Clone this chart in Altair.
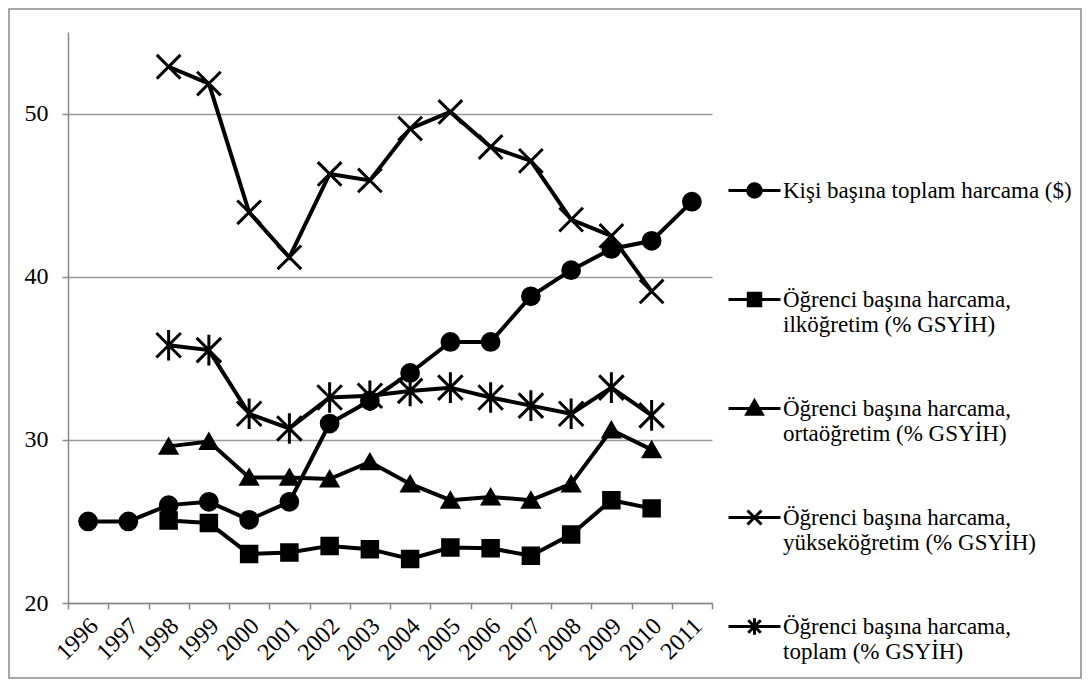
import altair as alt
import pandas as pd

years = [str(y) for y in range(1996, 2012)]

series = [
    "Kişi başına toplam harcama ($)",
    "Öğrenci başına harcama, ilköğretim (% GSYİH)",
    "Öğrenci başına harcama, ortaöğretim (% GSYİH)",
    "Öğrenci başına harcama, yükseköğretim (% GSYİH)",
    "Öğrenci başına harcama, toplam (% GSYİH)",
]

kisi = [25.0, 25.0, 26.0, 26.2, 25.1, 26.2, 31.0, 32.4, 34.1, 36.0, 36.0, 38.8, 40.4, 41.7, 42.2, 44.6]
ilk = [None, None, 25.05, 24.9, 23.0, 23.1, 23.5, 23.3, 22.7, 23.4, 23.35, 22.9, 24.2, 26.3, 25.8, None]
orta = [None, None, 29.6, 29.9, 27.7, 27.7, 27.6, 28.65, 27.3, 26.3, 26.5, 26.3, 27.3, 30.6, 29.4, None]
yuksek = [None, None, 52.87, 51.84, 43.95, 41.19, 46.3, 45.9, 49.08, 50.1, 47.95, 47.1, 43.5, 42.5, 39.1, None]
toplam = [None, None, 35.8, 35.5, 31.6, 30.7, 32.6, 32.7, 33.0, 33.2, 32.6, 32.1, 31.6, 33.2, 31.5, None]

y_ticks = [20, 30, 40, 50]

rows = []
for name, vals in zip(series, [kisi, ilk, orta, yuksek, toplam]):
    for yr, v in zip(years, vals):
        if v is not None:
            rows.append({"year": yr, "series": name, "value": v})
df = pd.DataFrame(rows)

FONT = "Liberation Serif, Times New Roman, serif"
FS = 24
LEG_FS = 23

# marker shapes in the plot
X_PATH = "M-1,-1L1,1M-1,1L1,-1"
AST_PATH = "M-1,-1L1,1M-1,1L1,-1M0,-1.25V1.25"
plot_shapes = ["circle", "square", "triangle-up", X_PATH, AST_PATH]
plot_sizes = [280, 240, 260, 560, 600]

# legend symbols: stroked part (line segment + outlines) and filled part
LINE = "M-1,0H1"
CIRC = "M-0.26,0A0.26,0.26 0 1,0 0.26,0A0.26,0.26 0 1,0 -0.26,0Z"
SQR = "M-0.24,-0.24H0.24V0.24H-0.24Z"
TRI = "M0,-0.3L0.3,0.22H-0.3Z"
XL = "M-0.27,-0.27L0.27,0.27M-0.27,0.27L0.27,-0.27"
AST = "M-0.24,-0.24L0.24,0.24M-0.24,0.24L0.24,-0.24M0,-0.32V0.32"
leg_stroke_shapes = [LINE + CIRC, LINE + SQR, LINE + TRI, LINE + XL, LINE + AST]
leg_fill_shapes = [CIRC, SQR, TRI, "M0,0", "M0,0"]

x_enc = alt.X(
    "year:N",
    sort=years,
    bandPosition=0.5,
    scale=alt.Scale(type="band", domain=years, paddingInner=0, paddingOuter=0),
    axis=alt.Axis(
        title=None,
        tickBand="extent",
        labelAngle=-45,
        labelAlign="right",
        labelBaseline="middle",
        labelPadding=13,
        labelOffset=6,
        tickSize=6,
        grid=False,
    ),
)
y_enc = alt.Y(
    "value:Q",
    scale=alt.Scale(domain=[20, 55], nice=False, zero=False),
    axis=alt.Axis(
        title=None,
        values=y_ticks,
        grid=True,
        tickSize=6,
        labelPadding=14,
    ),
)

base = alt.Chart(df)

lines = base.mark_line(color="black", strokeWidth=4).encode(
    x=x_enc, y=y_enc, detail="series:N"
)

point_layers = []
for name, shp, sz in zip(series, plot_shapes, plot_sizes):
    point_layers.append(
        base.transform_filter(alt.datum.series == name)
        .mark_point(
            shape=shp, size=sz, filled=True, fill="black",
            stroke="black", strokeWidth=3, opacity=1,
        )
        .encode(x=x_enc, y=y_enc)
    )

label_expr = (
    "indexof(datum.label, ', ') < 0 ? [datum.label, ''] : "
    "[substring(datum.label, 0, indexof(datum.label, ', ') + 1), "
    "substring(datum.label, indexof(datum.label, ', ') + 2)]"
)

LEG_X = 659
LEG_Y = 131
ROW_PAD = 44


def make_legend(label_opacity):
    return alt.Legend(
        title=None,
        orient="none",
        legendX=LEG_X,
        legendY=LEG_Y,
        padding=0,
        labelExpr=label_expr,
        labelFont=FONT,
        labelFontSize=LEG_FS,
        labelColor="black",
        labelOpacity=label_opacity,
        labelLimit=500,
        labelOffset=1,
        rowPadding=ROW_PAD,
        symbolSize=2704,
        symbolStrokeWidth=3,
        symbolOpacity=1,
    )


legend_stroke = base.transform_filter("datum.value > 1000").mark_point(
    filled=False, color="black", strokeWidth=3, opacity=1
).encode(
    x=x_enc,
    y=y_enc,
    shape=alt.Shape(
        "series:N",
        scale=alt.Scale(domain=series, range=leg_stroke_shapes),
        legend=make_legend(1),
    ),
)

legend_fill = base.transform_filter("datum.value > 2000").mark_point(
    filled=True, color="black", opacity=1
).encode(
    x=x_enc,
    y=y_enc,
    shape=alt.Shape(
        "series:N",
        scale=alt.Scale(domain=series, range=leg_fill_shapes),
        legend=make_legend(0),
    ),
)

frame = alt.Chart(pd.DataFrame({"a": [0]})).mark_rect(
    fillOpacity=0, stroke="#8a8a8a", strokeWidth=1.5, clip=False
).encode(
    x=alt.value(-59), x2=alt.value(1013), y=alt.value(-23), y2=alt.value(646)
)

chart = (
    alt.layer(frame, lines, *point_layers, legend_stroke, legend_fill)
    .resolve_scale(shape="independent")
    .properties(
        width=644,
        height=571,
        autosize=alt.AutoSizeParams(type="none"),
        padding={"left": 60, "top": 24, "right": 370, "bottom": 76},
    )
    .configure_view(strokeWidth=0)
    .configure_axis(
        labelFont=FONT,
        labelFontSize=FS,
        labelColor="black",
        domainColor="#8a8a8a",
        domainWidth=1.5,
        tickColor="#8a8a8a",
        tickWidth=1.5,
        gridColor="#9a9a9a",
        gridWidth=1.5,
    )
)

chart.save("out.html", embed_options={"renderer": "svg", "actions": False})
